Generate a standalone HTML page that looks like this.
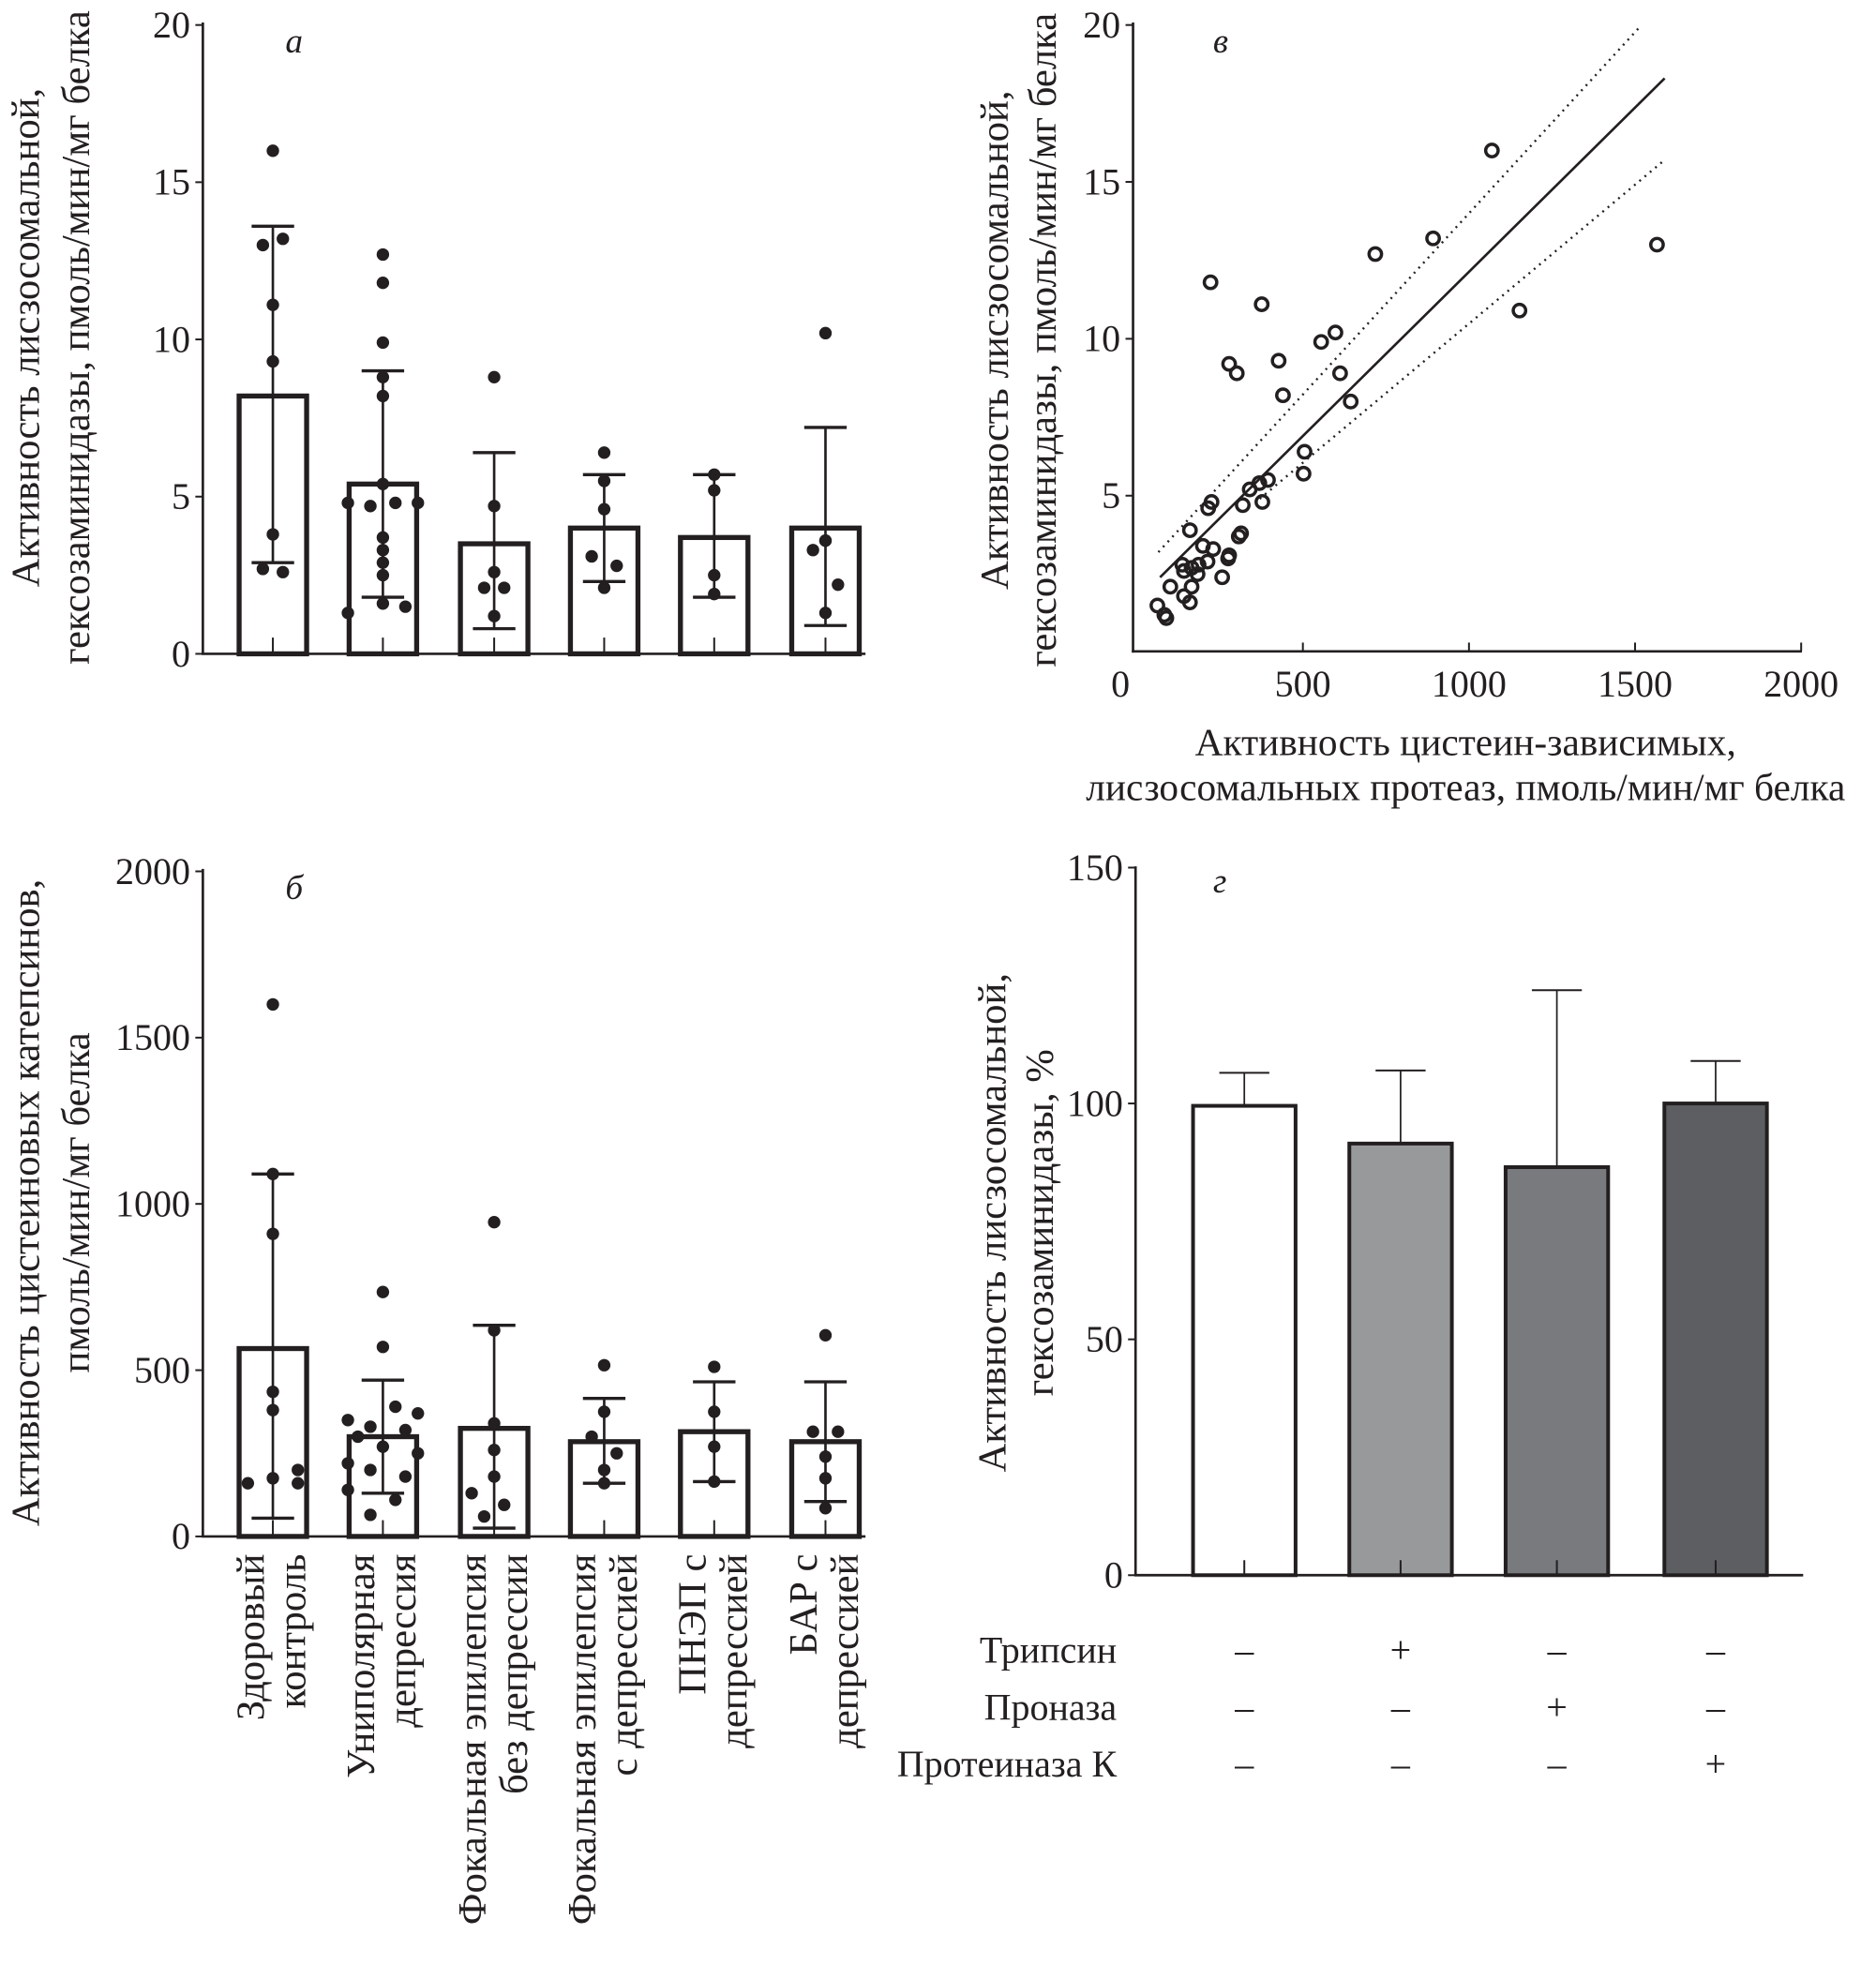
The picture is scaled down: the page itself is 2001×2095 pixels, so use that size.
<!DOCTYPE html>
<html><head><meta charset="utf-8"><style>
html,body{margin:0;padding:0;background:#fff}
svg{display:block}
text{font-family:"Liberation Serif",serif;fill:#231f20}
</style></head><body>
<svg id="fig" width="2001" height="2095" viewBox="0 0 1500 1571" xmlns="http://www.w3.org/2000/svg">
<g id="pa"></g>
<g id="pb"></g>
<g id="pv"></g>
<g id="pg"></g>
</svg>
<script>
// Panel a data
const aMeans=[8.2,5.4,3.5,4.0,3.7,4.0];
const aTop=[13.6,9.0,6.4,5.7,5.7,7.2];
const aLow=[2.9,1.8,0.8,2.3,1.8,0.9];
const aDots=[[16,13.0,13.2,11.1,9.3,3.8,2.7,2.6],[12.7,11.8,9.9,8.8,8.2,5.4,4.8,4.7,4.8,4.8,3.7,3.3,2.9,2.5,1.6,1.3,1.5],[8.8,4.7,2.6,2.1,2.1,1.2],[6.4,5.5,4.6,3.1,2.8,2.1],[5.7,5.2,2.5,1.9],[10.2,3.6,3.6,3.3,2.2,1.3]];
const aDotOff=[[0,-8,8,0,0,0,-8,8],[0,0,0,0,0,0,-28,-10,10,28,0,0,0,0,0,-28,18],[0,0,0,-8,8,0],[0,0,0,-10,10,0],[0,0,0,0],[0,0,0,-10,10,0]];
const aTicks=[0,5,10,15,20];
// Panel b data
const bMeans=[565,300,325,285,315,285];
const bTop=[1090,470,635,415,465,465];
const bLow=[55,130,25,160,165,105];
const bDots=[[1600,1090,910,435,380,200,175,160,160],[735,570,390,350,370,330,320,300,270,250,220,200,180,140,110,65],[945,620,340,260,180,130,95,60],[515,375,300,250,200,160],[510,375,270,165],[605,315,315,240,175,85]];
const bDotOff=[[0,0,0,0,0,20,0,-20,20],[0,0,10,-28,28,-10,18,-20,0,28,-28,-10,18,-28,10,-10],[0,0,0,0,0,-18,8,-8],[0,0,-10,10,0,0],[0,0,0,0],[0,-10,10,0,0,0]];
const bTicks=[0,500,1000,1500,2000];
const groupNames=[["Здоровый","контроль"],["Униполярная","депрессия"],["Фокальная эпилепсия","без депрессии"],["Фокальная эпилепсия","с депрессией"],["ПНЭП с","депрессией"],["БАР с","депрессией"]];
// Panel v data
const vX=[1069,892,718,1566,1152,222,376,598,555,427,278,301,612,440,644,505,502,395,369,340,378,319,225,215,160,314,307,199,230,278,275,213,186,137,165,142,183,257,101,165,142,160,62,83,89];
const vY=[16.0,13.2,12.7,13.0,10.9,11.8,11.1,10.2,9.9,9.3,9.2,8.9,8.9,8.2,8.0,6.4,5.7,5.5,5.4,5.2,4.8,4.7,4.8,4.6,3.9,3.8,3.7,3.4,3.3,3.1,3.0,2.9,2.8,2.8,2.7,2.6,2.5,2.4,2.1,2.1,1.8,1.6,1.5,1.2,1.1];
const vFit=[[70,2.4],[1589,18.3]];
const vUp=[[65,3.2],[1511,19.9]];
const vLo=[[370,4.9],[1589,15.7]];
const vXTicks=[0,500,1000,1500,2000];
const vYTicks=[5,10,15,20];
// Panel g data
const gVals=[99.5,91.5,86.5,100];
const gErr=[106.5,107,124,109];
const gFill=["#ffffff","#98999b","#797a7e","#5d5e62"];
const gTicks=[0,50,100,150];
const gRows=["Трипсин","Проназа","Протеиназа К"];
const gSigns=[["–","+","–","–"],["–","–","+","–"],["–","–","–","+"]];

const NS="http://www.w3.org/2000/svg";
function mk(p,t,a,txt){const e=document.createElementNS(NS,t);for(const k in a)e.setAttribute(k,a[k]);if(txt!==undefined)e.textContent=txt;p.appendChild(e);return e;}

const barX=[218,306,395,483,571,660];
function barPanel(g,y0,y1,vmax,means,top,low,dots,offs,ticks,label,ylab,ylabCy){
  const Y=v=>y0-(v/vmax)*(y0-y1);
  let e=mk(g,'line',{x1:162,y1:y1-2,x2:162,y2:y0,stroke:'#231f20','stroke-width':2});
  
  e=mk(g,'line',{x1:161,y1:y0,x2:692,y2:y0,stroke:'#231f20','stroke-width':2});
  
  ticks.forEach(t=>{mk(g,'line',{x1:156,y1:Y(t),x2:162,y2:Y(t),stroke:'#231f20','stroke-width':1.5});
    e=mk(g,'text',{x:152,y:Y(t)+10,'text-anchor':'end','font-size':30},String(t));
    });
  means.forEach((m,i)=>{const cx=barX[i];
    e=mk(g,'rect',{x:cx-27,y:Y(m),width:54,height:y0-Y(m),fill:'#fff',stroke:'#231f20','stroke-width':4});
    
    mk(g,'line',{x1:cx,y1:y0-1,x2:cx,y2:y0-13,stroke:'#231f20','stroke-width':1.5});
    mk(g,'line',{x1:cx,y1:Y(top[i]),x2:cx,y2:Y(low[i]),stroke:'#231f20','stroke-width':2});
    mk(g,'line',{x1:cx-17,y1:Y(top[i]),x2:cx+17,y2:Y(top[i]),stroke:'#231f20','stroke-width':2.5});
    mk(g,'line',{x1:cx-17,y1:Y(low[i]),x2:cx+17,y2:Y(low[i]),stroke:'#231f20','stroke-width':2.5});
    dots[i].forEach((d,j)=>{e=mk(g,'circle',{cx:cx+offs[i][j],cy:Y(d),r:5,fill:'#231f20'});
      });
  });
  e=mk(g,'text',{x:228,y:y1+22,'font-size':28,'font-style':'italic'},label);
  
  ylab.forEach((l,k)=>{e=mk(g,'text',{x:0,y:0,'font-size':32,'text-anchor':'middle',transform:`translate(${31+k*40},${ylabCy}) rotate(-90)`},l);
    });
}
barPanel(document.getElementById('pa'),523,20,20,aMeans,aTop,aLow,aDots,aDotOff,aTicks,'а',["Активность лисзосомальной,","гексозаминидазы, пмоль/мин/мг белка"],270);
barPanel(document.getElementById('pb'),1229,697,2000,bMeans,bTop,bLow,bDots,bDotOff,bTicks,'б',["Активность цистеиновых катепсинов,","пмоль/мин/мг белка"],962);
(function(){const g=document.getElementById('pb');
  groupNames.forEach((n,i)=>{n.forEach((l,k)=>{const e=mk(g,'text',{x:0,y:0,'font-size':32,'text-anchor':'end',transform:`translate(${barX[i]-7+k*33},1243) rotate(-90)`},l);
    });});
})();

// Panel v scatter
(function(){const g=document.getElementById('pv');
  const X=v=>909+v*0.2657, Y=v=>522-v*25.1;
  let e=mk(g,'line',{x1:906,y1:18,x2:906,y2:522,stroke:'#231f20','stroke-width':2});
  
  e=mk(g,'line',{x1:905,y1:521,x2:1441,y2:521,stroke:'#231f20','stroke-width':2});
  
  vYTicks.forEach(t=>{mk(g,'line',{x1:900,y1:Y(t),x2:906,y2:Y(t),stroke:'#231f20','stroke-width':1.5});
    e=mk(g,'text',{x:896,y:Y(t)+10,'text-anchor':'end','font-size':30},String(t));
    });
  vXTicks.forEach(t=>{if(t>0)mk(g,'line',{x1:X(t),y1:521,x2:X(t),y2:514,stroke:'#231f20','stroke-width':1.5});
    e=mk(g,'text',{x:X(t)-(t===0?13:0),y:557,'text-anchor':'middle','font-size':30},String(t));
    });
  e=mk(g,'line',{x1:X(vFit[0][0]),y1:Y(vFit[0][1]),x2:X(vFit[1][0]),y2:Y(vFit[1][1]),stroke:'#231f20','stroke-width':2});
  
  [vUp,vLo].forEach((b,k)=>{e=mk(g,'line',{x1:X(b[0][0]),y1:Y(b[0][1]),x2:X(b[1][0]),y2:Y(b[1][1]),stroke:'#231f20','stroke-width':1.8,'stroke-dasharray':'1.5 4'});
    });
  vX.forEach((x,i)=>{e=mk(g,'circle',{cx:X(x),cy:Y(vY[i]),r:5,fill:'none',stroke:'#231f20','stroke-width':2.6});
    });
  e=mk(g,'text',{x:970,y:42,'font-size':28,'font-style':'italic'},'в');
  
  ["Активность цистеин-зависимых,","лисзосомальных протеаз, пмоль/мин/мг белка"].forEach((l,k)=>{e=mk(g,'text',{x:1172,y:604+k*36,'text-anchor':'middle','font-size':31},l);
    });
  ["Активность лисзосомальной,","гексозаминидазы, пмоль/мин/мг белка"].forEach((l,k)=>{e=mk(g,'text',{x:0,y:0,'font-size':32,'text-anchor':'middle',transform:`translate(${806+k*38},272) rotate(-90)`},l);
    });
})();

// Panel g
(function(){const g=document.getElementById('pg');
  const y0=1260,y1=694,Y=v=>y0-v/150*(y0-y1);const cxs=[995,1120,1245,1372];
  let e=mk(g,'line',{x1:908,y1:y1-1,x2:908,y2:y0,stroke:'#231f20','stroke-width':2});
  
  e=mk(g,'line',{x1:907,y1:y0,x2:1442,y2:y0,stroke:'#231f20','stroke-width':2});
  
  gTicks.forEach(t=>{mk(g,'line',{x1:902,y1:Y(t),x2:908,y2:Y(t),stroke:'#231f20','stroke-width':1.5});
    e=mk(g,'text',{x:898,y:Y(t)+10,'text-anchor':'end','font-size':30},String(t));
    });
  gVals.forEach((v,i)=>{const cx=cxs[i];
    mk(g,'line',{x1:cx,y1:Y(gErr[i]),x2:cx,y2:Y(v),stroke:'#231f20','stroke-width':1.3});
    mk(g,'line',{x1:cx-20,y1:Y(gErr[i]),x2:cx+20,y2:Y(gErr[i]),stroke:'#231f20','stroke-width':1.5});
    e=mk(g,'rect',{x:cx-41,y:Y(v),width:82,height:y0-Y(v),fill:gFill[i],stroke:'#231f20','stroke-width':3});
    
    mk(g,'line',{x1:cx,y1:y0-1,x2:cx,y2:y0-12,stroke:'#231f20','stroke-width':1.5});});
  gRows.forEach((r,k)=>{const y=1330+k*45.5;
    e=mk(g,'text',{x:893,y:y,'text-anchor':'end','font-size':30},r);
    
    gSigns[k].forEach((s,i)=>{e=mk(g,'text',{x:cxs[i],y:y,'text-anchor':'middle','font-size':30},s);
      });});
  e=mk(g,'text',{x:970,y:714,'font-size':28,'font-style':'italic'},'г');
  
  ["Активность лисзосомальной,","гексозаминидазы, %"].forEach((l,k)=>{e=mk(g,'text',{x:0,y:0,'font-size':32,'text-anchor':'middle',transform:`translate(${804+k*38},978) rotate(-90)`},l);
    });
})();
</script>
</body></html>
